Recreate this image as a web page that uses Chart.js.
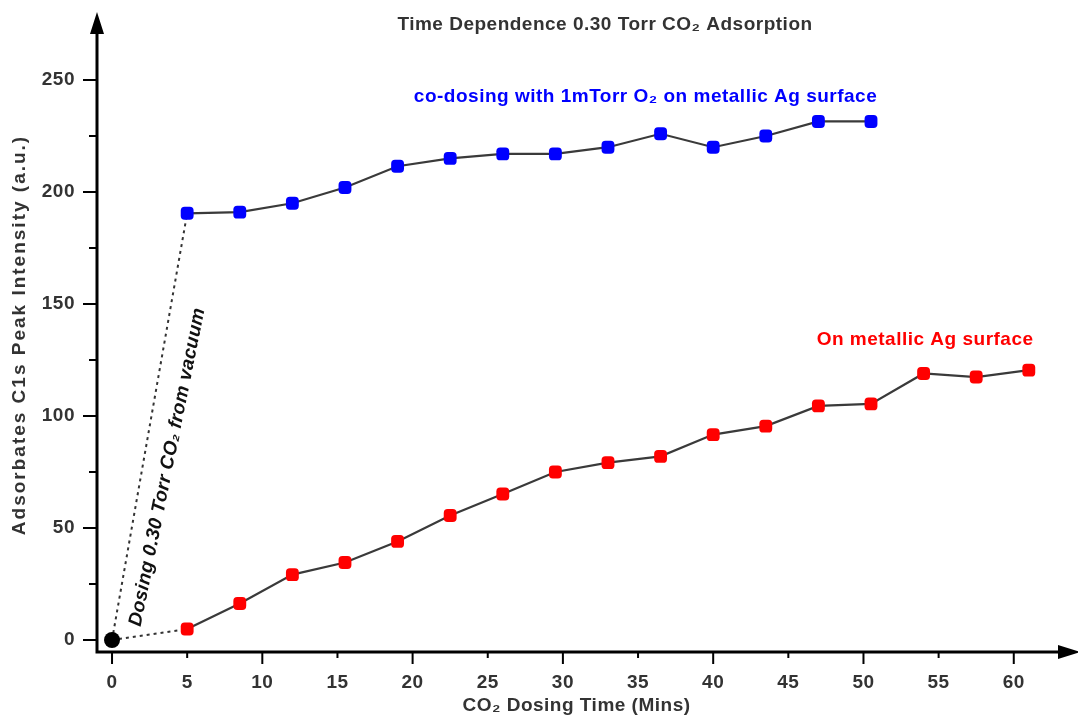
<!DOCTYPE html>
<html>
<head>
<meta charset="utf-8">
<script src="https://cdn.jsdelivr.net/npm/chart.js@4.4.1/dist/chart.umd.min.js"></script>
<style>
  html, body { margin: 0; padding: 0; background: #fff; }
  #wrap { width: 1078px; height: 717px; }
</style>
</head>
<body>
<div id="wrap"><canvas id="adsorptionChart"></canvas></div>
<script>
// dosing times (mins) and C1s intensities
const times = [5, 8.5, 12, 15.5, 19, 22.5, 26, 29.5, 33, 36.5, 40, 43.5, 47, 50.5, 54, 57.5, 61];
const coDosing = [190.5, 191, 195, 202, 211.5, 215, 217, 217, 220, 226, 220, 225, 231.5, 231.5]; // with 1 mTorr O2
const metallic = [4.9, 16.3, 29.2, 34.6, 44, 55.6, 65.2, 75, 79.2, 82, 91.7, 95.5, 104.5, 105.4, 119, 117.4, 120.5];
const xTicks = [0, 5, 10, 15, 20, 25, 30, 35, 40, 45, 50, 55, 60];
const yTicks = [0, 25, 50, 75, 100, 125, 150, 175, 200, 225, 250];

const FONT = 'Liberation Sans, Arial, sans-serif';
const toPoints = (vals) => vals.map((v, i) => ({ x: times[i], y: v }));

// axes with arrows, tick marks and the text annotations
const decor = {
  id: 'decor',
  beforeDraw(chart) {
    chart.ctx.letterSpacing = '0.5px';
  },
  beforeDatasetsDraw(chart) {
    const { ctx, chartArea, scales: { x, y } } = chart;
    const ox = chartArea.left, oy = chartArea.bottom;
    ctx.save();
    ctx.strokeStyle = '#000';
    ctx.fillStyle = '#000';
    ctx.lineWidth = 3;
    ctx.beginPath();
    ctx.moveTo(ox, oy + 1.5); ctx.lineTo(ox, 30);
    ctx.moveTo(ox - 1.5, oy); ctx.lineTo(1062, oy);
    ctx.stroke();
    ctx.beginPath();
    ctx.moveTo(ox, 12); ctx.lineTo(ox - 7, 34); ctx.lineTo(ox + 7, 34); ctx.closePath();
    ctx.moveTo(1080, oy); ctx.lineTo(1058, oy - 7); ctx.lineTo(1058, oy + 7); ctx.closePath();
    ctx.fill();
    ctx.lineWidth = 2;
    ctx.beginPath();
    xTicks.forEach(v => {
      const px = x.getPixelForValue(v);
      ctx.moveTo(px, oy); ctx.lineTo(px, oy + (v % 10 === 0 ? 12 : 6));
    });
    yTicks.forEach(v => {
      const py = y.getPixelForValue(v);
      ctx.moveTo(ox, py); ctx.lineTo(ox - (v % 50 === 0 ? 14 : 8), py);
    });
    ctx.stroke();
    ctx.restore();
  },
  afterDraw(chart) {
    const { ctx, chartArea, scales: { x, y } } = chart;
    ctx.save();
    ctx.textAlign = 'center';
    ctx.textBaseline = 'alphabetic';
    ctx.font = 'bold 19px ' + FONT;
    ctx.letterSpacing = '0.5px';
    ctx.fillStyle = '#333';
    ctx.fillText('Time Dependence 0.30 Torr CO\u2082 Adsorption', 605, 30);
    ctx.fillStyle = '#0000ff';
    ctx.fillText('co-dosing with 1mTorr O\u2082 on metallic Ag surface', x.getPixelForValue(35.5), y.getPixelForValue(240));
    ctx.fillStyle = '#ff0000';
    ctx.fillText('On metallic Ag surface', x.getPixelForValue(54.1), y.getPixelForValue(131.5));

    // y axis title, wider tracking than the other texts
    ctx.save();
    ctx.translate(20, (chartArea.top + chartArea.bottom) / 2 - 2);
    ctx.rotate(-Math.PI / 2);
    ctx.textBaseline = 'middle';
    ctx.letterSpacing = '2px';
    ctx.fillStyle = '#333';
    ctx.fillText('Adsorbates C1s Peak Intensity (a.u.)', 0, 0);
    ctx.restore();

    // rotated note along the dotted line
    ctx.translate(167.5, 467);
    ctx.rotate(-78.6 * Math.PI / 180);
    ctx.textBaseline = 'middle';
    ctx.font = 'italic bold 19px ' + FONT;
    ctx.letterSpacing = '0.3px';
    ctx.fillStyle = '#111';
    ctx.fillText('Dosing 0.30 Torr CO\u2082 from vacuum', 0, 0);
    ctx.restore();
  }
};

const ctx = document.getElementById('adsorptionChart').getContext('2d');
new Chart(ctx, {
  type: 'line',
  data: {
    datasets: [
      {
        label: 'origin',
        data: [{ x: 0, y: 0 }],
        showLine: false,
        pointRadius: 8,
        pointBackgroundColor: '#000',
        pointBorderWidth: 0
      },
      {
        label: 'co-dosing with 1mTorr O2 on metallic Ag surface',
        data: toPoints(coDosing),
        borderColor: '#3a3a3a',
        borderWidth: 2.2,
        pointStyle: 'rectRounded',
        pointRadius: 7.5,
        pointBackgroundColor: '#0000ff',
        pointBorderWidth: 0
      },
      {
        label: 'On metallic Ag surface',
        data: toPoints(metallic),
        borderColor: '#3a3a3a',
        borderWidth: 2.2,
        pointStyle: 'rectRounded',
        pointRadius: 7.5,
        pointBackgroundColor: '#ff0000',
        pointBorderWidth: 0
      },
      {
        label: 'dose-blue',
        data: [{ x: 0, y: 0 }, { x: times[0], y: coDosing[0] }],
        borderColor: '#333',
        borderWidth: 2,
        borderDash: [3, 4],
        pointRadius: 0
      },
      {
        label: 'dose-red',
        data: [{ x: 0, y: 0 }, { x: times[0], y: metallic[0] }],
        borderColor: '#333',
        borderWidth: 2,
        borderDash: [3, 4],
        pointRadius: 0
      }
    ]
  },
  options: {
    responsive: true,
    maintainAspectRatio: false,
    animation: false,
    layout: { padding: { top: 22, right: 22, left: 0, bottom: 0 } },
    plugins: {
      legend: { display: false },
      tooltip: { enabled: false }
    },
    scales: {
      x: {
        type: 'linear',
        min: -1,
        max: 62.81,
        afterBuildTicks: s => { s.ticks = xTicks.map(v => ({ value: v })); },
        afterFit: s => { s.height = 65; s.paddingLeft = 0; s.paddingRight = 0; },
        grid: { display: false, drawTicks: false },
        border: { display: false },
        ticks: {
          autoSkip: false, maxRotation: 0, padding: 19,
          color: '#333', font: { family: FONT, size: 19, weight: 'bold' }
        },
        title: {
          display: true, text: 'CO\u2082 Dosing Time (Mins)',
          color: '#333', font: { family: FONT, size: 19, weight: 'bold' },
          padding: { top: 0, bottom: 0 }
        }
      },
      y: {
        min: -5.36,
        max: 275.9,
        afterBuildTicks: s => { s.ticks = yTicks.map(v => ({ value: v })); },
        afterFit: s => { s.width = 97; s.paddingTop = 0; s.paddingBottom = 0; },
        grid: { display: false, drawTicks: false },
        border: { display: false },
        ticks: {
          autoSkip: false, padding: 22,
          color: '#333', font: { family: FONT, size: 19, weight: 'bold' },
          callback: v => (v % 50 === 0 ? String(v) : '')
        }
      }
    }
  },
  plugins: [decor]
});
</script>
</body>
</html>
